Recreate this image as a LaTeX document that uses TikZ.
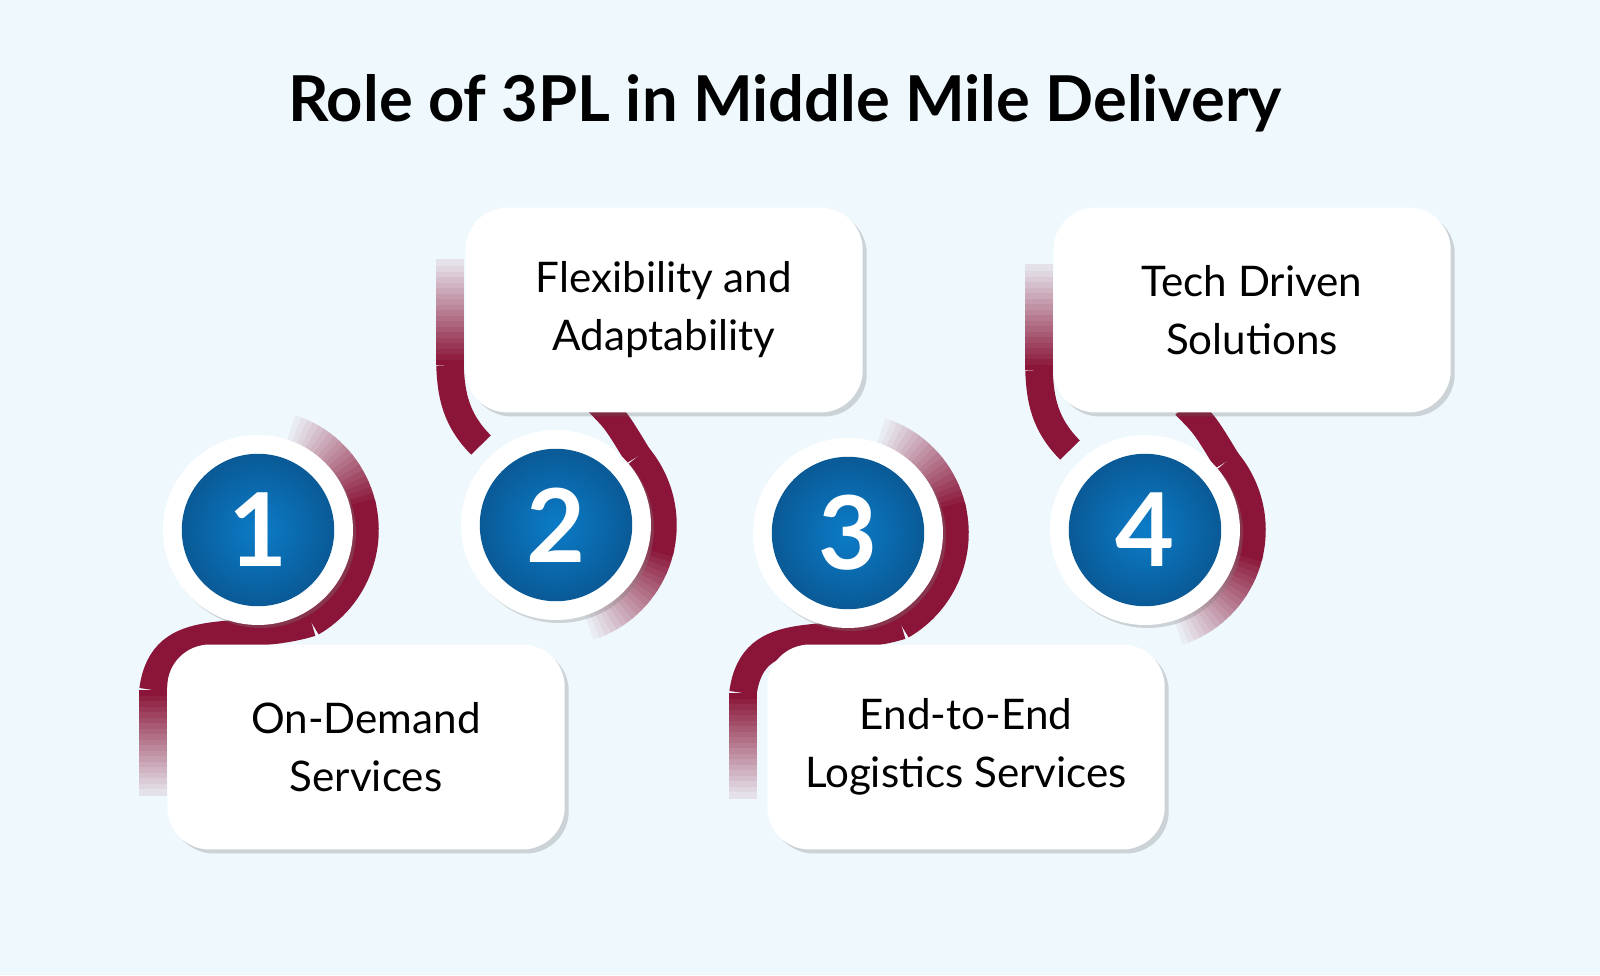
\documentclass[tikz,border=0pt]{standalone}
\usepackage{fontspec}
\setmainfont{Lato}
\usetikzlibrary{shadows,calc}
\definecolor{bg}{HTML}{EEF8FD}
\definecolor{maroon}{HTML}{8A1538}
\definecolor{blue1}{HTML}{0B7CC8}
\definecolor{blue2}{HTML}{0A5A96}
\tikzset{
 card/.style={draw=none,fill=white,rounded corners=0.85cm,minimum width=7.95cm,minimum height=4.1cm,
   drop shadow={shadow xshift=0.08cm,shadow yshift=-0.08cm,opacity=0.25,fill=black!60},
   align=center,font=\fontsize{24}{33}\selectfont},
 ring/.style={circle,fill=white,minimum size=3.8cm,drop shadow={shadow xshift=0.06cm,shadow yshift=-0.06cm,opacity=0.3}},
 num/.style={circle,inner color=blue1,outer color=blue2,minimum size=3.05cm,text=white,font=\bfseries\fontsize{58}{58}\selectfont},
 band/.style={line width=0.55cm,line cap=butt}
}
\begin{document}
\begin{tikzpicture}[x=0.02cm,y=-0.02cm]
\fill[bg] (0,0) rectangle (1600,975);
\useasboundingbox (0,0) rectangle (1600,975);
\node[font=\bfseries\fontsize{36}{40}\selectfont] (title) at (785,103) {Role of 3PL in Middle Mile Delivery};
% bands type A (circles 1,3)
\foreach \cx/\cy in {258/530,848/533}{
 \foreach \a in {-75,-72,...,-15}{
   \pgfmathsetmacro\p{max(0,min(100,(\a+75)/60*100))}
   \draw[band,maroon!\p!bg] ($(\cx,\cy)+(\a:107)$) arc(\a:\a+3.5:107);
 }
 \draw[band,maroon] ($(\cx,\cy)+(-15:107)$) arc(-15:60:107);
 \draw[band,maroon] ($(\cx,\cy)+(60:107)$) .. controls ($(\cx,\cy)+(-20,115)$) and ($(\cx,\cy)+(-95,85)$) .. ($(\cx,\cy)+(-105,160)$);
 \foreach \t in {0,0.05,...,0.95}{
   \pgfmathsetmacro\p{100-\t*100}
   \pgfmathsetmacro\ya{\cy+160+\t*110}
   \pgfmathsetmacro\yb{\cy+160+\t*110+7}
   \draw[band,maroon!\p!bg] (\cx-105,\ya) -- (\cx-105,\yb);
 }
}
% bands type B (circles 2,4)
\foreach \cx/\cy in {556/525,1145/530}{
 \foreach \a in {75,72,...,15}{
   \pgfmathsetmacro\p{max(0,min(100,(75-\a)/60*100))}
   \draw[band,maroon!\p!bg] ($(\cx,\cy)+(\a:107)$) arc(\a:\a-3.5:107);
 }
 \draw[band,maroon] ($(\cx,\cy)+(15:107)$) arc(15:-40:107);
 \draw[band,maroon] ($(\cx,\cy)+(-40:107)$) .. controls ($(\cx,\cy)+(60,-105)$) .. ($(\cx,\cy)+(40,-125)$);
 \draw[band,maroon] ($(\cx,\cy)+(-75,-80)$) .. controls ($(\cx,\cy)+(-100,-105)$) and ($(\cx,\cy)+(-105,-130)$) .. ($(\cx,\cy)+(-106,-160)$);
 \foreach \t in {0,0.05,...,0.95}{
   \pgfmathsetmacro\p{100-\t*100}
   \pgfmathsetmacro\ya{\cy-160-\t*110}
   \pgfmathsetmacro\yb{\cy-160-\t*110-7}
   \draw[band,maroon!\p!bg] (\cx-106,\ya) -- (\cx-106,\yb);
 }
}
\node[card] (b1) at (366,747) {On-Demand\\Services};
\node[card] (b2) at (664,310) {Flexibility and\\Adaptability};
\node[card] (b3) at (966,747) {End-to-End\\Logistics Services};
\node[card] (b4) at (1252,310) {Tech Driven\\Solutions};
\node[ring] (r1) at (258,530) {};
\node[ring] (r2) at (556,525) {};
\node[ring] (r3) at (848,533) {};
\node[ring] (r4) at (1145,530) {};
\node[num] (n1) at (r1) {1};
\node[num] (n2) at (r2) {2};
\node[num] (n3) at (r3) {3};
\node[num] (n4) at (r4) {4};
\end{tikzpicture}
\end{document}
